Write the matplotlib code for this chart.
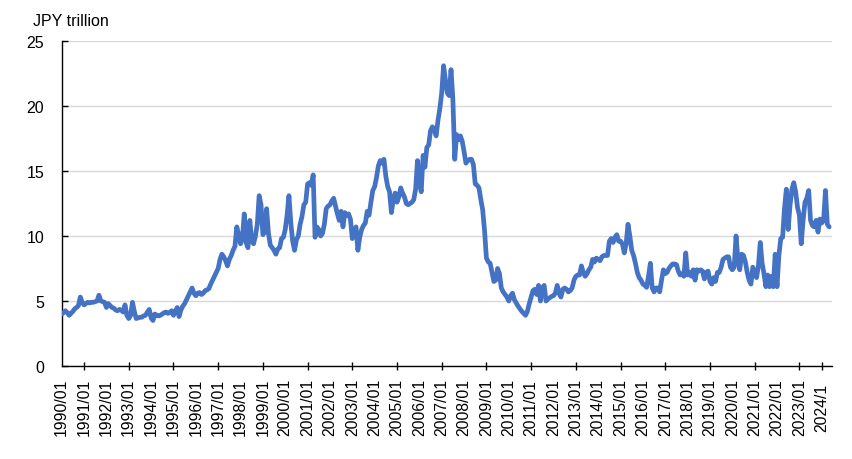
import matplotlib
matplotlib.use("Agg")
import matplotlib.pyplot as plt

plt.rcParams['font.family'] = ['Liberation Sans', 'DejaVu Sans']

# monthly values, JPY trillion, starting 1990/01
start_year = 1990
values = [
    4.0, 4.1, 4.25, 4.1, 3.9, 4.05, 4.2, 4.4, 4.5, 4.65, 5.3, 4.9,          # 1990
    4.7, 4.8, 4.9, 4.85, 4.9, 4.9, 4.95, 5.0, 5.45, 5.0, 4.95, 4.9,         # 1991
    4.5, 4.8, 4.65, 4.5, 4.45, 4.3, 4.25, 4.35, 4.3, 4.15, 4.7, 3.9,        # 1992
    3.65, 3.9, 4.9, 4.2, 3.65, 3.7, 3.75, 3.75, 3.85, 3.9, 4.15, 4.35,      # 1993
    3.7, 3.5, 4.0, 3.9, 3.85, 3.9, 4.0, 4.1, 4.15, 4.05, 4.1, 4.25,         # 1994
    3.9, 4.2, 4.5, 3.8, 4.3, 4.6, 4.8, 5.1, 5.4, 5.7, 6.0, 5.6,             # 1995
    5.4, 5.6, 5.65, 5.5, 5.6, 5.8, 5.85, 5.95, 6.3, 6.6, 6.9, 7.2,          # 1996
    7.5, 8.2, 8.6, 8.4, 8.1, 7.7, 8.2, 8.5, 8.9, 9.2, 10.7, 10.1,           # 1997
    9.4, 9.8, 11.7, 9.5, 9.1, 11.2, 9.6, 9.4, 10.0, 10.9, 13.1, 12.4,       # 1998
    10.1, 10.3, 12.1, 10.2, 9.3, 9.1, 8.9, 8.6, 9.0, 9.1, 9.8, 9.9,         # 1999
    10.5, 11.6, 13.1, 11.0, 9.6, 8.9, 9.7, 10.0, 10.9, 11.5, 12.4, 12.6,    # 2000
    14.0, 14.1, 13.9, 14.7, 9.9, 10.7, 10.5, 10.0, 10.2, 10.9, 12.1, 12.3,  # 2001
    12.4, 12.7, 12.9, 12.3, 11.7, 11.2, 11.9, 10.7, 11.8, 11.6, 11.7, 11.3, # 2002
    9.8, 10.3, 10.7, 8.9, 9.9, 10.5, 10.8, 11.0, 11.9, 11.6, 12.6, 13.5,    # 2003
    13.8, 14.5, 15.4, 15.8, 15.6, 15.9, 14.6, 13.8, 13.4, 11.8, 12.8, 13.3, # 2004
    12.6, 13.0, 13.7, 13.3, 13.0, 12.5, 12.4, 12.5, 12.6, 12.8, 13.6, 15.8, # 2005
    14.1, 13.4, 16.2, 15.3, 16.8, 17.0, 18.1, 18.4, 18.2, 17.7, 18.9, 19.8, # 2006
    21.0, 23.1, 22.0, 21.0, 20.8, 22.8, 20.5, 15.9, 17.8, 17.4, 17.7, 17.3, # 2007
    16.5, 15.6, 15.8, 15.9, 15.9, 15.5, 14.0, 13.9, 13.7, 12.8, 12.0, 10.4, # 2008
    8.3, 8.0, 7.9, 7.2, 6.5, 6.6, 7.5, 7.1, 6.0, 5.7, 5.5, 5.3,             # 2009
    5.0, 5.4, 5.6, 5.1, 4.85, 4.6, 4.4, 4.2, 4.05, 3.9, 4.2, 4.8,           # 2010
    5.3, 5.8, 5.9, 5.5, 6.2, 5.0, 6.0, 6.2, 5.0, 5.15, 5.25, 5.35,          # 2011
    5.4, 5.6, 6.2, 5.6, 5.3, 5.9, 6.0, 5.9, 5.7, 5.8, 6.0, 6.6,             # 2012
    6.9, 7.0, 7.0, 7.7, 7.2, 6.9, 7.1, 7.4, 7.6, 8.2, 8.0, 8.3,             # 2013
    8.2, 8.1, 8.4, 8.5, 8.5, 8.5, 9.6, 9.8, 9.5, 9.9, 10.1, 9.6,            # 2014
    9.6, 9.4, 8.7, 9.4, 10.9, 10.0, 8.9, 8.5, 7.9, 7.2, 6.8, 6.6,           # 2015
    6.3, 6.2, 6.05, 6.9, 7.9, 6.0, 5.7, 6.0, 6.0, 5.7, 6.6, 7.4,            # 2016
    7.1, 7.2, 7.5, 7.7, 7.85, 7.85, 7.8, 7.3, 7.0, 7.1, 6.9, 8.7,           # 2017
    7.0, 7.2, 6.9, 7.4, 6.6, 7.4, 7.3, 7.4, 7.3, 6.7, 7.2, 7.3,             # 2018
    6.5, 6.3, 6.8, 6.5, 7.2, 7.2, 7.6, 8.2, 8.3, 8.4, 8.4, 7.6,             # 2019
    7.4, 7.6, 10.0, 8.2, 7.4, 8.6, 8.5, 8.0, 7.2, 6.6, 6.3, 7.6,            # 2020
    7.2, 6.8, 7.7, 9.5, 7.9, 7.1, 6.1, 7.0, 6.1, 6.9, 6.1, 8.6,             # 2021
    6.1, 8.5, 9.8, 9.9, 12.1, 13.6, 10.5, 12.4, 13.6, 14.1, 13.4, 12.2,     # 2022
    11.6, 9.4, 11.2, 12.6, 12.9, 13.5, 11.2, 10.8, 10.7, 11.2, 10.3, 11.3,  # 2023
    11.0, 11.2, 13.5, 10.9, 10.7,                                           # 2024
]

label_years = list(range(1990, 2024))
last_label = "2024/1"

months = list(range(len(values)))

fig = plt.figure(figsize=(8.52, 4.6), dpi=100)
ax = fig.add_axes([0.0724, 0.2022, 0.9041, 0.7065])

ax.plot(months, values, color='#4472C4', lw=3.4, solid_joinstyle='round',
        solid_capstyle='round', zorder=3)

ax.set_xlim(0, 413.5)
ax.set_ylim(0, 25)
ax.set_yticks([0, 5, 10, 15, 20, 25])
ax.tick_params(axis='y', direction='in', length=4, width=1, pad=12.5,
               labelsize=11.5, color='black')
ax.yaxis.grid(True, color='#d9d9d9', lw=1)
ax.set_axisbelow(True)

# ticks every two years plus the last year, labels every year
tick_pos = list(range(12, 12 * (2023 - start_year) + 1, 24)) + [12 * (2024 - start_year)]
ax.set_xticks(tick_pos)
ax.set_xticklabels([])
ax.tick_params(axis='x', direction='inout', length=6, width=1, color='black')

lab_pos = [12 * (y - start_year) for y in label_years] + [12 * (2024 - start_year)]
lab_txt = [f"{y}/01" for y in label_years] + [last_label]
for p, t in zip(lab_pos, lab_txt):
    ax.text(p, -0.1255, t, rotation=90, ha='center', va='center',
            fontsize=11.3, transform=ax.get_xaxis_transform(), clip_on=False)

for s in ['top', 'right']:
    ax.spines[s].set_visible(False)
for s in ['left', 'bottom']:
    ax.spines[s].set_color('black')
    ax.spines[s].set_linewidth(1)

fig.text(33 / 852, 1 - 25.5 / 460, "JPY trillion", fontsize=11.5, va='baseline')

fig.savefig("out.png", dpi=100)
